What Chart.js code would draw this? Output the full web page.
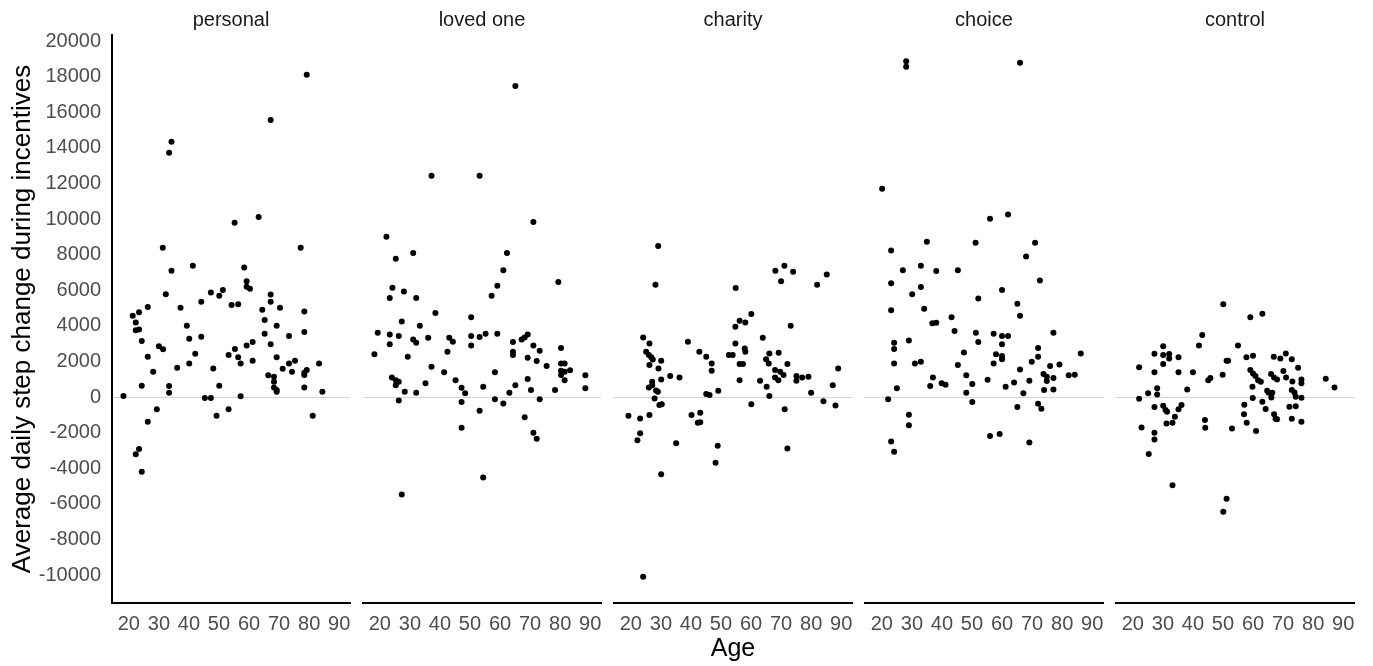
<!DOCTYPE html>
<html>
<head>
<meta charset="utf-8">
<script src="https://cdn.jsdelivr.net/npm/chart.js@4.4.1/dist/chart.umd.min.js"></script>
<style>
  html, body { margin: 0; padding: 0; background: #fff; }
  #wrap { position: relative; width: 1373px; height: 666px; overflow: hidden; }
  #wrap canvas { position: absolute; top: 0; }
</style>
</head>
<body>
<div id="wrap"></div>
<script>
// facet labels and axis ticks
const panelNames = ['personal', 'loved one', 'charity', 'choice', 'control'];
const ageTicks = [20, 30, 40, 50, 60, 70, 80, 90];
const stepTicks = [-10000, -8000, -6000, -4000, -2000, 0, 2000, 4000, 6000, 8000, 10000, 12000, 14000, 16000, 18000, 20000];

// [age, average daily step change]
const personal = [
  [79.2, 18100], [67.2, 15560], [34.2, 14340], [33.4, 13720], [55.2, 9790], [63.2, 10110],
  [31.3, 8390], [77.2, 8390], [34.2, 7090], [41.3, 7380], [58.4, 7280], [59.2, 6510],
  [59.2, 6200], [60.3, 6080], [32.3, 5780], [47.3, 5880], [50.1, 5690], [51.3, 6010],
  [67.2, 5760], [44.1, 5360], [54.2, 5170], [56.4, 5210], [67.2, 5360], [70.3, 5020],
  [64.4, 4910], [78.4, 4810], [37.2, 5020], [26.3, 5060], [23.4, 4760], [21.3, 4570],
  [22.3, 4190], [22.3, 3760], [23.4, 3800], [24.3, 3150], [39.3, 4010], [40.1, 3280],
  [44.1, 3390], [42.1, 2430], [40.1, 1890], [36.1, 1650], [65.2, 4330], [69.2, 4010],
  [78.4, 3650], [65.2, 3560], [73.3, 3430], [67.2, 2960], [59.2, 2900], [61.2, 3090],
  [55.3, 2700], [53.2, 2360], [56.4, 2230], [57.2, 1890], [61.2, 2040], [69.2, 2230],
  [73.3, 1890], [75.3, 2040], [71.2, 1590], [74.3, 1420], [78.4, 1240], [79.2, 1520],
  [78.4, 1370], [83.3, 1890], [66.4, 1220], [68.3, 1140], [68.3, 860], [68.3, 540],
  [69.2, 390], [69.2, 300], [78.4, 540], [84.4, 300], [26.3, 2270], [28.1, 1420],
  [30.0, 2860], [31.4, 2680], [24.3, 640], [33.4, 620], [33.4, 240], [48.1, 1610],
  [50.1, 640], [18.2, 60], [45.3, -50], [47.3, -50], [57.2, 50], [29.3, -690],
  [26.3, -1390], [49.2, -1050], [53.2, -690], [81.2, -1050], [23.4, -2920], [22.3, -3220],
  [24.3, -4200]
];
const lovedOne = [
  [65.1, 17470], [37.2, 12430], [53.2, 12430], [71.1, 9830], [22.2, 9000], [25.3, 7770],
  [31.1, 8090], [62.3, 8090], [79.4, 6460], [61.1, 7130], [59.1, 6250], [57.2, 5690],
  [24.2, 6140], [23.3, 5560], [28.0, 5930], [32.1, 5560], [38.5, 4720], [50.4, 4490],
  [27.3, 4250], [33.3, 4010], [19.3, 3610], [23.3, 3520], [26.3, 3430], [23.3, 2960],
  [18.2, 2410], [29.3, 2270], [31.1, 3240], [32.1, 3050], [36.1, 3330], [43.1, 3330],
  [44.3, 3110], [42.5, 2550], [50.4, 3430], [50.4, 2900], [53.2, 3370], [55.2, 3560],
  [59.1, 3560], [64.3, 3090], [64.3, 2550], [64.3, 2360], [67.2, 3240], [68.2, 3350],
  [69.2, 3520], [71.1, 2900], [73.2, 2600], [69.2, 2210], [72.2, 2020], [75.5, 1740],
  [80.3, 2750], [80.3, 1890], [81.5, 1890], [80.3, 1480], [81.5, 1420], [83.3, 1500],
  [80.3, 1240], [81.5, 950], [88.4, 1220], [88.4, 490], [37.2, 1700], [41.4, 1400],
  [24.0, 1100], [25.3, 950], [26.3, 860], [25.3, 670], [35.2, 770], [45.2, 950],
  [47.2, 520], [48.4, 210], [28.3, 300], [32.1, 240], [26.3, -190], [47.2, -280],
  [54.4, 580], [58.3, 1400], [58.3, -130], [61.1, -360], [63.1, 240], [65.1, 670],
  [69.2, 1010], [70.3, 390], [73.2, -130], [78.3, 390], [53.2, -770], [68.2, -1140],
  [47.2, -1730], [71.1, -2010], [72.2, -2340], [54.4, -4520], [27.3, -5470]
];
const charity = [
  [29.1, 8480], [28.2, 6310], [54.9, 6120], [71.1, 7380], [68.1, 7090], [74.0, 7040],
  [70.0, 6500], [85.2, 6890], [82.0, 6310], [60.1, 4660], [56.2, 4290], [58.1, 4190],
  [54.8, 3950], [73.2, 4010], [24.1, 3350], [26.2, 3010], [39.0, 3110], [54.8, 3010],
  [63.9, 3330], [57.9, 2730], [58.1, 2550], [25.1, 2550], [26.0, 2360], [26.8, 2230],
  [27.3, 2110], [30.1, 2040], [26.2, 1800], [29.2, 1610], [42.8, 2550], [45.1, 2270],
  [46.9, 1890], [46.9, 1480], [52.6, 2360], [53.9, 2360], [56.2, 1850], [57.3, 1850],
  [56.2, 950], [66.1, 2450], [65.0, 2120], [65.9, 1890], [69.2, 2490], [72.1, 1850],
  [68.0, 1520], [69.7, 1420], [70.8, 1240], [68.0, 1100], [69.1, 950], [75.1, 1180],
  [77.0, 1100], [79.1, 1140], [75.1, 920], [89.0, 1610], [87.2, 670], [80.0, 240],
  [84.1, -230], [88.1, -470], [30.1, 990], [27.1, 860], [26.0, 540], [27.1, 670],
  [28.4, 370], [29.0, 300], [27.9, -80], [33.1, 1180], [36.2, 1100], [45.1, 170],
  [46.2, 110], [49.1, 350], [63.0, 920], [65.2, 580], [66.1, 60], [29.5, -450],
  [30.3, -410], [60.1, -410], [71.2, -690], [19.2, -1050], [23.1, -1200], [26.2, -1010],
  [40.2, -1010], [43.1, -880], [42.3, -1440], [43.1, -1410], [23.1, -2040], [22.2, -2420],
  [35.1, -2600], [48.9, -2740], [72.1, -2890], [48.2, -3690], [30.1, -4330], [24.1, -10100]
];
const choice = [
  [28.1, 18860], [28.1, 18560], [66.0, 18780], [20.1, 11700], [56.0, 10020], [62.0, 10260],
  [35.0, 8720], [51.2, 8670], [71.0, 8670], [23.1, 8240], [68.0, 7900], [27.0, 7130],
  [33.0, 7380], [38.1, 7080], [45.3, 7130], [72.6, 6550], [23.1, 6400], [33.0, 6180],
  [30.1, 5780], [60.0, 6010], [52.1, 5540], [23.1, 4870], [34.1, 4960], [65.1, 5240],
  [66.0, 4570], [36.8, 4140], [38.1, 4180], [43.2, 4480], [44.2, 3710], [51.3, 3610],
  [52.1, 3090], [57.2, 3560], [60.0, 3430], [62.0, 3430], [60.0, 2960], [58.0, 2400],
  [60.0, 2300], [60.0, 2120], [57.2, 1890], [77.1, 3610], [72.0, 2750], [72.0, 2270],
  [69.9, 1980], [24.1, 3050], [24.1, 2700], [24.1, 1890], [29.0, 3180], [31.0, 1890],
  [33.0, 1980], [47.3, 2510], [45.3, 1800], [48.1, 1220], [50.1, 730], [48.1, 240],
  [50.1, -280], [36.1, 620], [37.0, 1100], [39.9, 770], [41.2, 690], [25.0, 490],
  [22.1, -130], [55.2, 970], [61.2, 580], [64.0, 820], [66.0, 1550], [67.1, 210],
  [69.1, 920], [73.8, 1290], [74.9, 1140], [76.0, 1740], [77.1, 1070], [74.9, 900],
  [74.0, 390], [77.1, 430], [79.1, 1830], [82.2, 1220], [84.2, 1250], [86.2, 2450],
  [65.1, -560], [72.0, -380], [73.1, -660], [29.0, -990], [29.0, -1580], [56.0, -2190],
  [59.2, -2080], [69.1, -2550], [23.1, -2490], [24.1, -3070]
];
const control = [
  [50.1, 5210], [59.1, 4490], [63.1, 4680], [43.1, 3480], [42.0, 2900], [55.0, 2900],
  [30.1, 2850], [27.2, 2430], [30.1, 2360], [32.1, 2420], [32.1, 2170], [30.1, 1850],
  [35.2, 2230], [22.1, 1680], [27.2, 1400], [35.2, 1400], [40.0, 1400], [45.1, 950],
  [45.8, 1070], [49.9, 1250], [51.2, 2040], [51.7, 2040], [57.8, 2230], [60.0, 2320],
  [59.1, 1520], [60.0, 1330], [60.8, 1180], [61.7, 950], [62.6, 860], [59.8, 580],
  [59.9, -60], [63.1, -260], [64.2, -670], [64.7, 350], [65.2, 240], [66.1, -20],
  [66.4, 240], [66.9, 2270], [69.1, 2170], [70.9, 2450], [72.9, 2130], [75.0, 1650],
  [66.0, 1290], [67.0, 1100], [68.0, 990], [70.1, 1460], [71.0, 1100], [73.1, 880],
  [76.1, 990], [76.1, 770], [72.9, 390], [73.8, 260], [74.2, 20], [76.1, -40],
  [72.1, -540], [74.2, -510], [67.0, -960], [67.5, -1220], [68.0, -1240], [72.9, -1220],
  [76.1, -1390], [84.2, 1030], [87.1, 540], [25.1, 210], [28.1, 490], [28.1, 150],
  [22.1, -100], [27.2, -560], [30.1, -490], [30.9, -730], [31.4, -830], [35.2, -680],
  [36.2, -450], [34.0, -1110], [31.2, -1480], [33.2, -1440], [38.1, 430], [44.0, -1290],
  [44.1, -1730], [53.0, -1760], [57.1, -430], [57.0, -960], [57.9, -1440], [61.0, -1910],
  [22.9, -1710], [27.2, -2010], [27.2, -2380], [25.3, -3200], [33.2, -4950], [51.2, -5710],
  [50.1, -6450]
];
const panelData = [personal, lovedOne, charity, choice, control];

Chart.defaults.font.family = '"Liberation Sans", Arial, sans-serif';

const wrap = document.getElementById('wrap');
const plotLeft = [112, 363, 614, 865, 1116];
const plotW = 238;
const side = 12;

panelData.forEach((pts, i) => {
  const first = i === 0;
  const canvas = document.createElement('canvas');
  const left = first ? 0 : plotLeft[i] - side;
  const width = first ? plotLeft[0] + plotW + side : plotW + side * 2;
  canvas.width = width;
  canvas.height = 666;
  canvas.style.left = left + 'px';
  canvas.style.width = width + 'px';
  canvas.style.height = '666px';
  wrap.appendChild(canvas);

  new Chart(canvas.getContext('2d'), {
    type: 'scatter',
    data: {
      datasets: [{
        data: pts.map(p => ({ x: p[0], y: p[1] })),
        backgroundColor: '#000',
        borderColor: '#000',
        borderWidth: 0,
        pointRadius: 3,
        pointHoverRadius: 3
      }]
    },
    options: {
      responsive: false,
      animation: false,
      layout: { padding: { left: first ? 0 : side, right: side, top: 0, bottom: 0 } },
      plugins: {
        legend: { display: false },
        tooltip: { enabled: false },
        title: {
          display: true,
          fullSize: false,  // centre the strip label over the plot area only
          text: panelNames[i],
          color: '#1a1a1a',
          font: { size: 20, weight: 'normal' },
          padding: { top: 8, bottom: 3 }
        }
      },
      scales: {
        x: {
          type: 'linear',
          min: 14.4,
          max: 93.6,
          afterBuildTicks: s => { s.ticks = ageTicks.map(v => ({ value: v })); },
          afterFit: s => { s.height = 63; },
          grid: { display: false },
          border: { display: true, color: '#000', width: 2 },
          ticks: {
            autoSkip: false, maxRotation: 0, minRotation: 0,
            color: '#4d4d4d', font: { size: 20 }, padding: 1,
            callback: v => String(v)
          },
          title: {
            display: i === 2,
            text: 'Age',
            color: '#000',
            font: { size: 25 },
            padding: { top: 0, bottom: 2 }
          }
        },
        y: {
          min: -11570,
          max: 20340,
          afterBuildTicks: s => { s.ticks = stepTicks.map(v => ({ value: v })); },
          afterFit: s => { s.width = first ? plotLeft[0] : 0; },
          grid: {
            drawTicks: false,
            lineWidth: 1,
            color: c => (c.tick && c.tick.value === 0) ? '#d4d4d4' : 'rgba(0,0,0,0)'
          },
          border: { display: first, color: '#000', width: 2 },
          ticks: {
            display: first,
            color: '#4d4d4d', font: { size: 20 }, padding: 11,
            callback: v => String(v)
          },
          title: {
            display: first,
            text: 'Average daily step change during incentives',
            color: '#000',
            font: { size: 26 },
            padding: { top: 7, bottom: 0 }
          }
        }
      }
    }
  });
});
</script>
</body>
</html>
